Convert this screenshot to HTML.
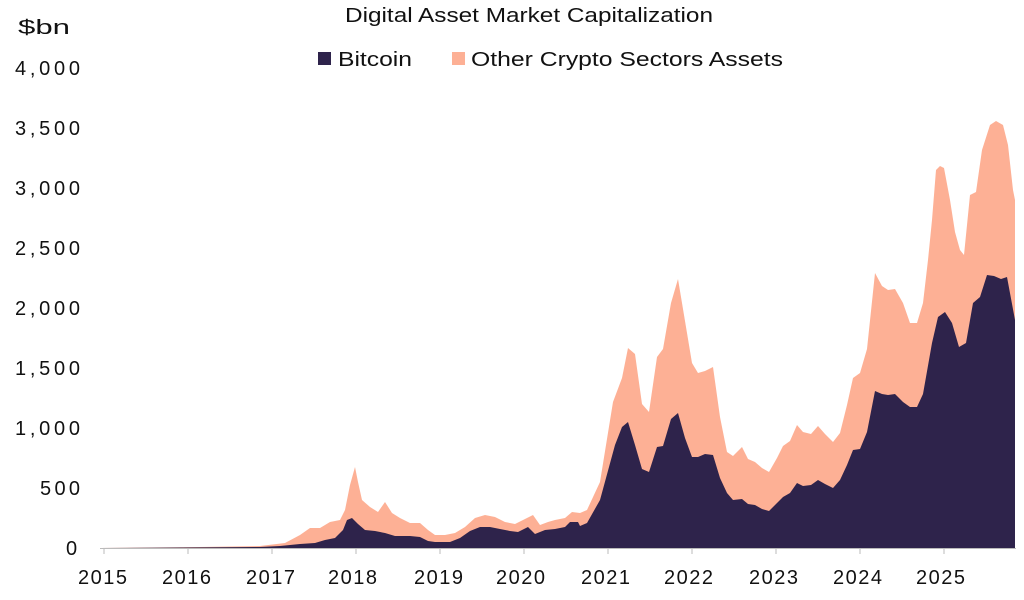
<!DOCTYPE html>
<html><head><meta charset="utf-8"><style>
html,body{margin:0;padding:0;background:#fff;}
svg text{font-family:"Liberation Sans",sans-serif;fill:#111;}
</style></head><body>
<svg width="1024" height="595" viewBox="0 0 1024 595" xmlns="http://www.w3.org/2000/svg">
<text x="345" y="22" font-size="20" textLength="368" lengthAdjust="spacingAndGlyphs">Digital Asset Market Capitalization</text>
<text x="18" y="34" font-size="20" textLength="52" lengthAdjust="spacingAndGlyphs">$bn</text>
<rect x="318" y="52" width="13" height="13" fill="#2e234b"/>
<text x="338" y="66" font-size="20" textLength="74" lengthAdjust="spacingAndGlyphs">Bitcoin</text>
<rect x="452" y="52" width="13" height="13" fill="#fdb095"/>
<text x="471" y="66" font-size="20" textLength="312" lengthAdjust="spacingAndGlyphs">Other Crypto Sectors Assets</text>
<g font-size="20" lengthAdjust="spacingAndGlyphs">
<text x="66" y="555" textLength="13">0</text>
<text x="40" y="495" textLength="40">500</text>
<text x="15" y="435" textLength="65">1,000</text>
<text x="15" y="375" textLength="65">1,500</text>
<text x="15" y="315" textLength="65">2,000</text>
<text x="15" y="255" textLength="65">2,500</text>
<text x="15" y="195" textLength="65">3,000</text>
<text x="15" y="135" textLength="65">3,500</text>
<text x="15" y="75" textLength="65">4,000</text>
</g>
<polygon fill="#fdb095" points="100,548 200,547 260,546 285,543 300,535 310,528 320,528 330,522 340,520 345,510 350,485 355,467 358,482 362,500 370,507 378,512 385,502 392,513 400,518 410,523 420,523 428,530 435,535 445,535 455,533 465,527 475,518 485,515 495,517 505,522 515,524 525,519 533,515 540,525 548,522 555,520 565,518 572,512 580,513 587,510 600,482 613,402 622,378 628,348 635,354 642,404 649,412 657,357 663,349 671,303 678,279 692,363 698,373 705,371 713,367 720,417 727,452 733,456 742,447 748,459 755,462 762,468 769,472 777,458 783,446 790,441 797,425 803,432 811,434 818,426 825,434 833,442 840,433 847,405 853,378 860,373 867,349 875,273 882,286 888,290 895,289 903,303 910,323 917,323 923,303 928,260 932,220 936,170 940,166 944,168 950,200 955,232 960,250 964,255 970,195 976,192 982,150 990,125 996,121 1003,125 1008,145 1013,190 1015,200 1015,548"/>
<polygon fill="#2e234b" points="100,548 260,547 280,546 300,544 315,543 325,540 335,538 343,530 347,520 352,518 358,524 365,530 375,531 385,533 395,536 410,536 420,537 428,541 435,542 450,542 460,538 470,531 480,527 490,527 500,529 510,531 518,532 528,527 535,534 545,530 555,529 565,527 570,522 578,522 580,526 587,523 600,500 615,445 622,427 628,422 635,445 642,469 649,472 657,447 663,446 671,419 678,413 685,438 692,457 698,457 705,454 713,455 720,478 727,493 733,500 742,499 748,504 755,505 762,509 769,511 777,503 783,497 790,493 797,483 803,486 811,485 818,480 825,484 833,488 840,480 847,465 853,450 860,449 867,432 875,391 882,394 888,395 895,394 903,402 910,407 917,407 923,394 932,343 938,317 945,312 952,323 959,347 966,343 973,303 980,297 987,275 994,276 1001,279 1007,277 1015,320 1015,548"/>
<line x1="100" y1="548.5" x2="1016" y2="548.5" stroke="#bbb" stroke-width="1"/>
<g stroke="#bbb" stroke-width="1">
<line x1="104" y1="549" x2="104" y2="554"/><line x1="188" y1="549" x2="188" y2="554"/><line x1="272" y1="549" x2="272" y2="554"/><line x1="356" y1="549" x2="356" y2="554"/><line x1="440" y1="549" x2="440" y2="554"/><line x1="524" y1="549" x2="524" y2="554"/><line x1="608" y1="549" x2="608" y2="554"/><line x1="692" y1="549" x2="692" y2="554"/><line x1="776" y1="549" x2="776" y2="554"/><line x1="860" y1="549" x2="860" y2="554"/><line x1="944" y1="549" x2="944" y2="554"/>
</g>
<g font-size="20" lengthAdjust="spacingAndGlyphs">
<text x="78" y="584" textLength="49">2015</text><text x="162" y="584" textLength="49">2016</text><text x="246" y="584" textLength="49">2017</text><text x="328" y="584" textLength="49">2018</text><text x="414" y="584" textLength="49">2019</text><text x="496" y="584" textLength="49">2020</text><text x="581" y="584" textLength="49">2021</text><text x="664" y="584" textLength="49">2022</text><text x="749" y="584" textLength="49">2023</text><text x="833" y="584" textLength="49">2024</text><text x="916" y="584" textLength="49">2025</text>
</g>
</svg>
</body></html>
